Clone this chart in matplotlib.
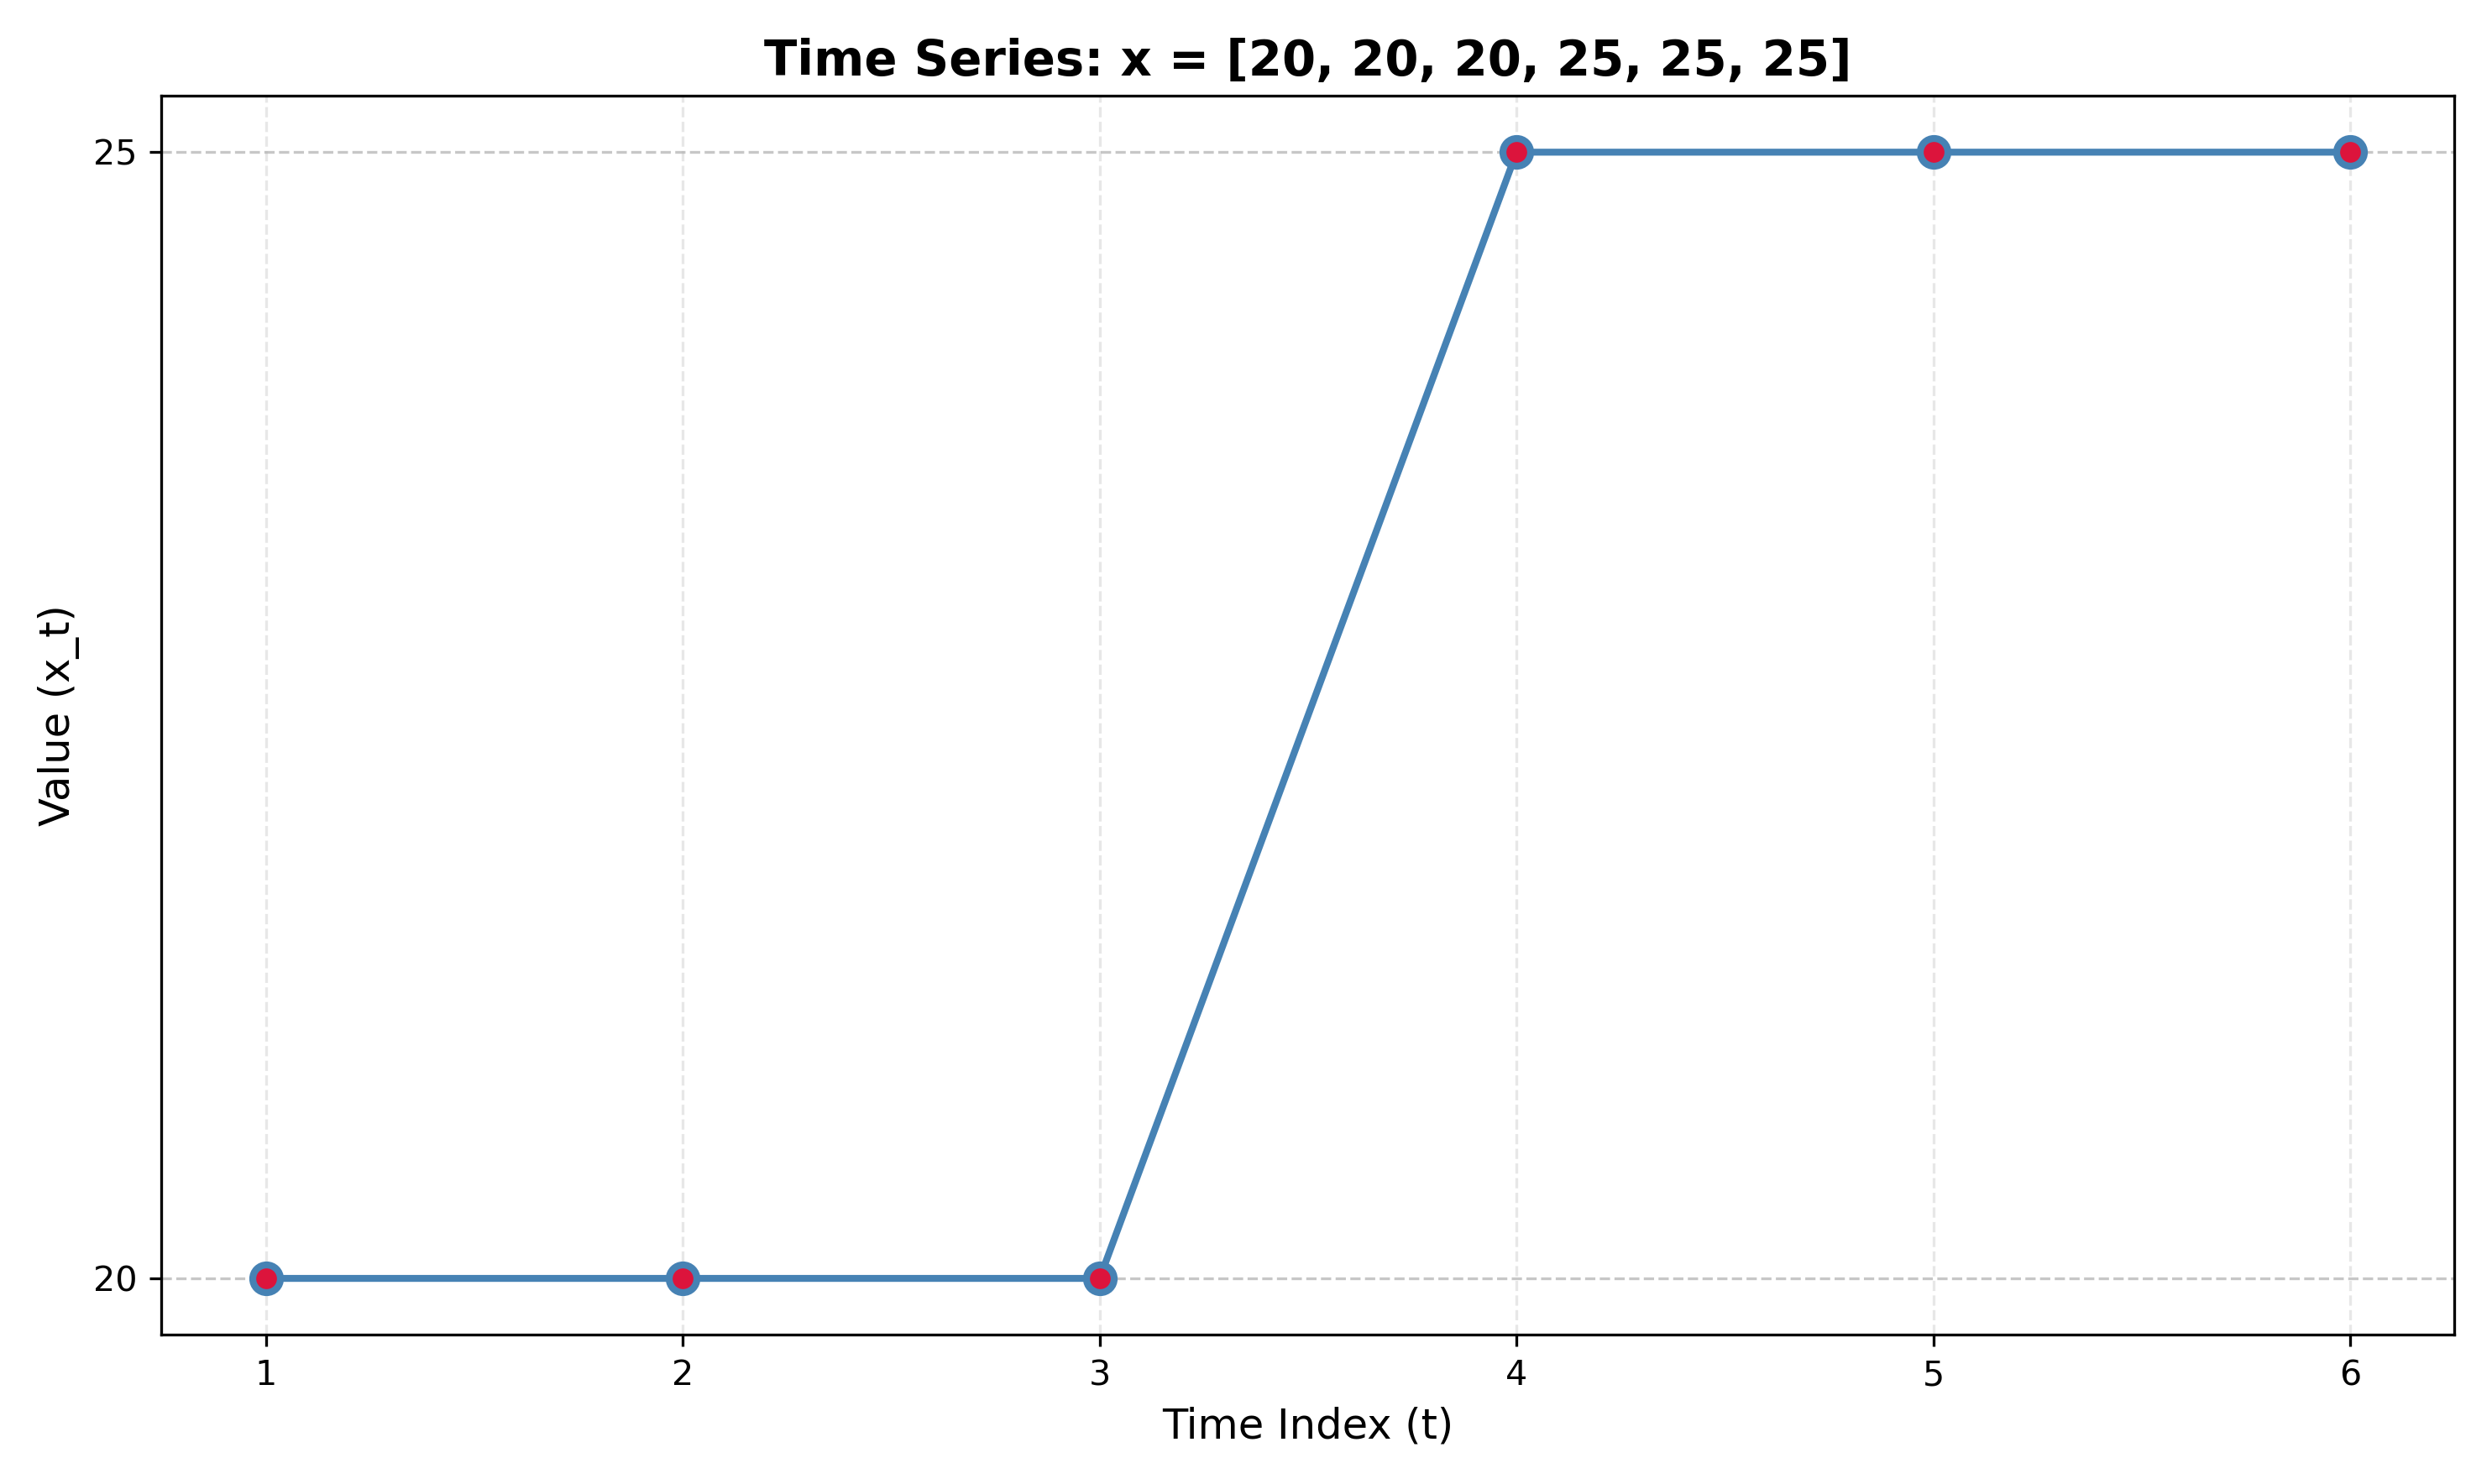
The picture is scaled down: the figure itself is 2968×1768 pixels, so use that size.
import matplotlib.pyplot as plt

t = [1, 2, 3, 4, 5, 6]
x = [20, 20, 20, 25, 25, 25]

fig, ax = plt.subplots(figsize=(10, 5.957), dpi=296.8)
ax.plot(t, x, color="steelblue", linewidth=2, marker="o", markersize=8,
        markerfacecolor="crimson", markeredgecolor="steelblue", markeredgewidth=2)
ax.set_title("Time Series: x = [20, 20, 20, 25, 25, 25]", fontsize=14, fontweight="bold")
ax.set_xlabel("Time Index (t)", fontsize=12)
ax.set_ylabel("Value (x_t)", fontsize=12)
ax.set_xticks(t)
ax.set_yticks(sorted(set(x)))
ax.grid(True, axis="x", linestyle="--", alpha=0.3)
ax.grid(True, axis="y", linestyle="--", alpha=0.7)
fig.tight_layout()
fig.savefig("out.png")
